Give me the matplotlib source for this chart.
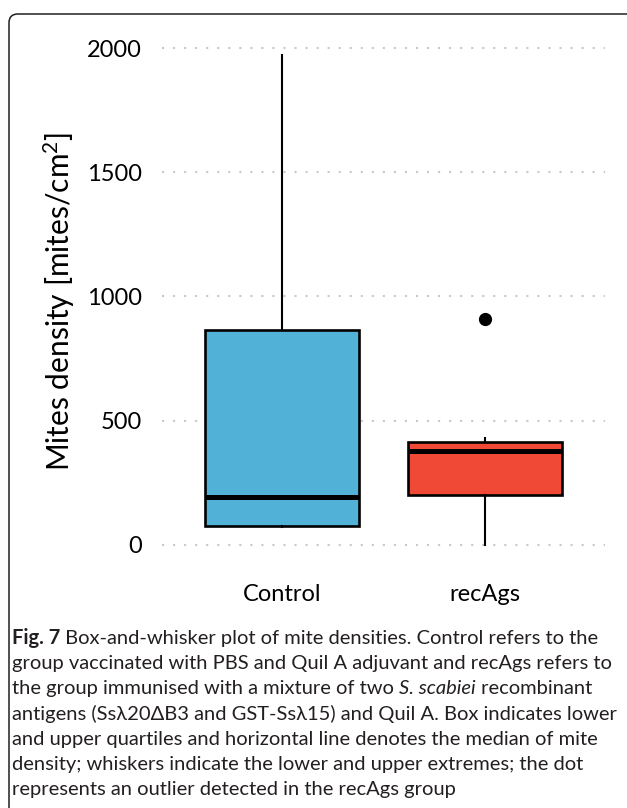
import matplotlib
matplotlib.use('Agg')
import matplotlib.pyplot as plt
from matplotlib.patches import FancyBboxPatch

plt.rcParams['font.family'] = ['Lato', 'DejaVu Sans']
plt.rcParams['mathtext.fontset'] = 'custom'
plt.rcParams['mathtext.rm'] = 'Lato'
plt.rcParams['mathtext.it'] = 'Lato:italic'

# values (mites/cm2)
groups = ['Control', 'recAgs']
whisker_low = [72, 0]
q1 = [76, 201]
median = [194, 379]
q3 = [865, 414]
whisker_high = [1972, 432]
outliers = [[], [909]]
box_colors = ['#51b1d7', '#f04a37']
yticks = [0, 500, 1000, 1500, 2000]

caption_lines = [
    [('Fig. 7', 'bold'), (' Box-and-whisker plot of mite densities. Control refers to the', 'normal')],
    [('group vaccinated with PBS and Quil A adjuvant and recAgs refers to', 'normal')],
    [('the group immunised with a mixture of two ', 'normal'), ('S. scabiei', 'italic'),
     (' recombinant', 'normal')],
    [('antigens (Ssλ20ΔB3 and GST-Ssλ15) and Quil A. Box indicates lower', 'normal')],
    [('and upper quartiles and horizontal line denotes the median of mite', 'normal')],
    [('density; whiskers indicate the lower and upper extremes; the dot', 'normal')],
    [('represents an outlier detected in the recAgs group', 'normal')],
]

W, H = 627, 808
fig = plt.figure(figsize=(W / 100, H / 100), dpi=100)

# rounded frame, open past the right and bottom edges
frame = FancyBboxPatch((9 / W, -0.05), 1.2, 1 - 14 / H + 0.05,
                       boxstyle='round,pad=0,rounding_size=0.014',
                       transform=fig.transFigure, fill=False,
                       edgecolor='#231f20', linewidth=1.1, mutation_aspect=W / H)
fig.patches.append(frame)

ax = fig.add_axes([162 / W, 1 - 557.4 / H, 443 / W, (557.4 - 35.6) / H])

stats = []
for i, g in enumerate(groups):
    stats.append(dict(label=g, whislo=whisker_low[i], q1=q1[i], med=median[i],
                      q3=q3[i], whishi=whisker_high[i], fliers=outliers[i]))

bp = ax.bxp(stats, positions=[1, 2], widths=0.76, patch_artist=True, showcaps=False,
            boxprops=dict(linewidth=1.9, edgecolor='black'),
            medianprops=dict(color='black', linewidth=3.6, solid_capstyle='butt'),
            whiskerprops=dict(color='black', linewidth=1.5),
            flierprops=dict(marker='o', markerfacecolor='black', markeredgecolor='black',
                            markersize=8.5))
for patch, c in zip(bp['boxes'], box_colors):
    patch.set_facecolor(c)
    patch.set_zorder(3)
for ln in bp['medians'] + bp['whiskers'] + bp['fliers']:
    ln.set_zorder(4)

ax.set_xlim(0.41, 2.59)
ax.set_ylim(-50, 2050)
ax.set_yticks(yticks)
ax.yaxis.grid(True, color='#c8c8c8', linewidth=1.5, linestyle=(0, (1, 4.3)))
ax.set_axisbelow(True)
for s in ax.spines.values():
    s.set_visible(False)
ax.tick_params(axis='y', length=0, pad=14.4, labelsize=17)
ax.tick_params(axis='x', length=0, pad=19, labelsize=17)

fig.text(59 / W, 1 - 301 / H, 'Mites density [mites/cm$^2$]', rotation=90,
         ha='center', va='center', fontsize=21.5)

# caption, pieces placed one after another
fig.canvas.draw()
renderer = fig.canvas.get_renderer()
base0 = 644
step = 25.2
for k, pieces in enumerate(caption_lines):
    x = 12
    y = base0 + k * step
    for txt, style in pieces:
        weight = 'bold' if style == 'bold' else 'normal'
        fstyle = 'italic' if style == 'italic' else 'normal'
        t = fig.text(x / W, 1 - y / H, txt, ha='left', va='baseline', fontsize=14.5,
                     color='#231f20', fontweight=weight, fontstyle=fstyle)
        bb = t.get_window_extent(renderer)
        x = bb.x1

fig.savefig('out.png', dpi=100)
